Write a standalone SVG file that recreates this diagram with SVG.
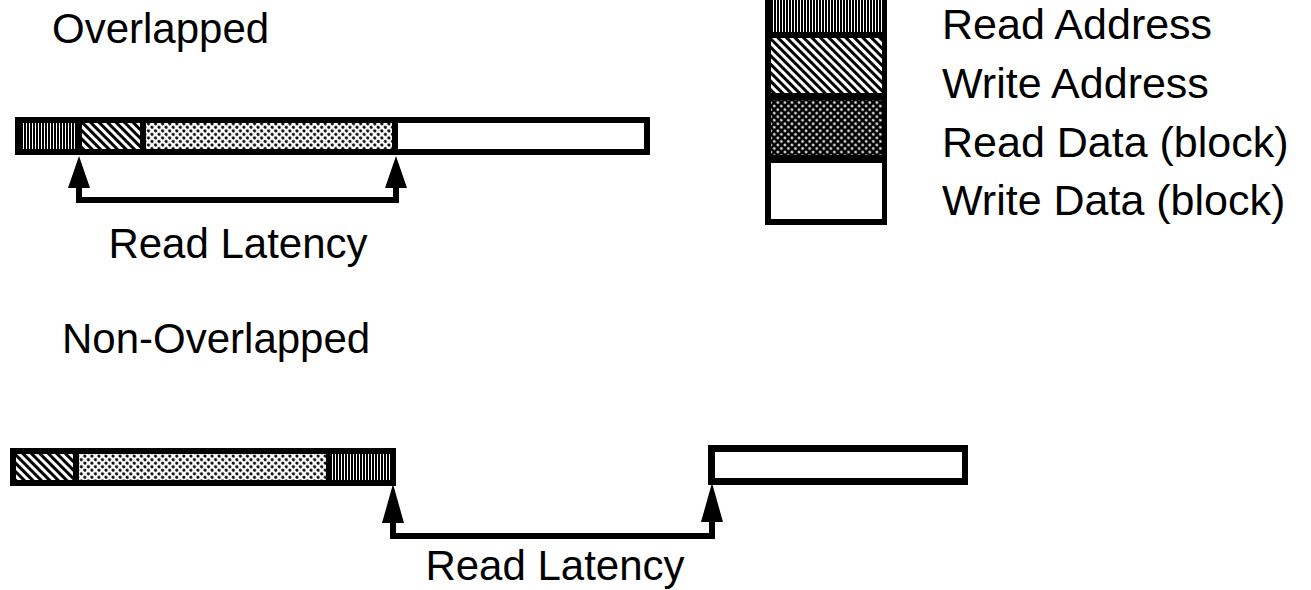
<svg xmlns="http://www.w3.org/2000/svg" width="1311" height="590" viewBox="0 0 1311 590">
<defs>
<style>
text{font-family:"Liberation Sans",Arial,Helvetica,sans-serif;font-size:42px;fill:#000}
.leg{font-size:43px}
.frame{fill:#000}
.wh{fill:#fff}
.conn{fill:none;stroke:#000;stroke-width:6;stroke-linejoin:miter}
.head{fill:#000}
</style>
<pattern id="vstripe" width="3" height="6" patternUnits="userSpaceOnUse">
<rect width="3" height="6" fill="#fff"/>
<rect width="2" height="6" fill="#000"/>
</pattern>
<pattern id="diag" width="6" height="6" patternUnits="userSpaceOnUse" patternTransform="rotate(-45)">
<rect width="6" height="6" fill="#fff"/>
<rect width="3" height="6" fill="#000"/>
</pattern>
<pattern id="dotsL" width="5" height="5" patternUnits="userSpaceOnUse" patternTransform="rotate(45)">
<rect width="5" height="5" fill="#fff"/>
<circle cx="2.5" cy="2.5" r="1.6" fill="#000"/>
</pattern>
<pattern id="dotsD" width="5" height="5" patternUnits="userSpaceOnUse" patternTransform="rotate(45)">
<rect width="5" height="5" fill="#000"/>
<circle cx="2.5" cy="2.5" r="1.3" fill="#fff"/>
</pattern>
</defs>
<rect width="1311" height="590" fill="#fff"/>

<g id="title-overlapped"><text x="52" y="43">Overlapped</text></g>
<g id="title-nonoverlapped"><text x="62" y="353">Non-Overlapped</text></g>

<g id="bar-overlapped">
<rect class="frame" x="15" y="117" width="635" height="38"/>
<rect x="21" y="123" width="55" height="26" fill="url(#vstripe)"/>
<rect x="82" y="123" width="58" height="26" fill="url(#diag)"/>
<rect x="146" y="123" width="246" height="26" fill="url(#dotsL)"/>
<rect class="wh" x="398" y="123" width="246" height="26"/>
</g>

<g id="bar-nonoverlapped-read">
<rect class="frame" x="10" y="448" width="386" height="38"/>
<rect x="16" y="454" width="57" height="26" fill="url(#diag)"/>
<rect x="79" y="454" width="247" height="26" fill="url(#dotsL)"/>
<rect x="331" y="454" width="59" height="26" fill="url(#vstripe)"/>
</g>

<g id="bar-nonoverlapped-write">
<rect class="frame" x="708" y="445" width="260" height="40"/>
<rect class="wh" x="715" y="452" width="247" height="26"/>
</g>

<g id="legend">
<rect class="frame" x="765" y="-10" width="122" height="235"/>
<rect x="771" y="-10" width="111" height="42" fill="url(#vstripe)"/>
<rect x="771" y="38" width="111" height="55" fill="url(#diag)"/>
<rect x="771" y="100" width="111" height="55" fill="url(#dotsD)"/>
<rect class="wh" x="771" y="163" width="111" height="56"/>
<text class="leg" x="942" y="39">Read Address</text>
<text class="leg" x="942" y="98">Write Address</text>
<text class="leg" x="942" y="157">Read Data (block)</text>
<text class="leg" x="942" y="215">Write Data (block)</text>
</g>

<g id="connectors">
<path class="conn" d="M79,185 V200 H396 V185"/>
<polygon class="head" points="79,156 68,188 90,188"/>
<polygon class="head" points="396,156 385,188 407,188"/>
<path class="conn" d="M393,520 V536 H712 V520"/>
<polygon class="head" points="393,484 382,523 404,523"/>
<polygon class="head" points="712,483 701,522 723,522"/>
</g>

<g id="label-latency-1"><text x="238" y="258" text-anchor="middle">Read Latency</text></g>
<g id="label-latency-2"><text x="555" y="580" text-anchor="middle">Read Latency</text></g>
</svg>
